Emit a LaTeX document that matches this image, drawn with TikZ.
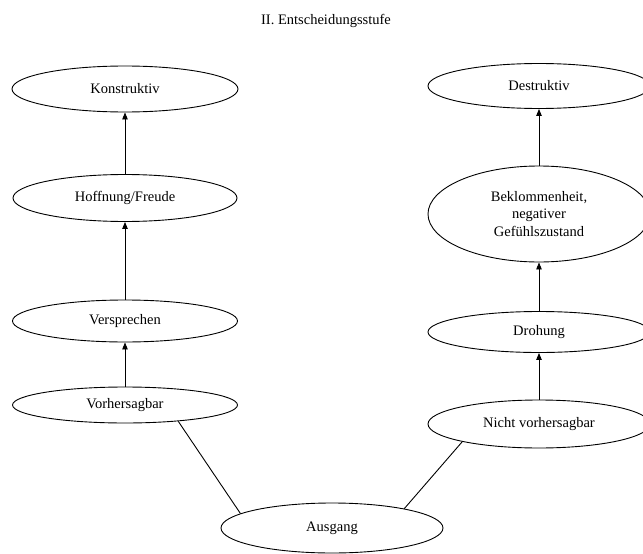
\documentclass[tikz,border=0pt]{standalone}
\usepackage{fontspec}
\setmainfont{Liberation Serif}
\usetikzlibrary{shapes.geometric,arrows.meta}
\begin{document}
\begin{tikzpicture}[x=1pt,y=-1pt,
  ell/.style={draw,ellipse,line width=0.9pt,inner sep=0pt,align=center,
    font=\fontsize{14.5}{17.5}\selectfont},
  arr/.style={line width=0.9pt,-{Triangle[length=7pt,width=5.5pt]}},
  conn/.style={line width=0.9pt}]
\clip (0,0) rectangle (643,554);
\fill[white] (0,0) rectangle (643,554);
\node[font=\fontsize{14.5}{17.5}\selectfont] (title) at (326,21) {II. Entscheidungsstufe};
% left column
\node[ell,minimum width=226pt,minimum height=46pt] (K) at (125,89) {Konstruktiv};
\node[ell,minimum width=224pt,minimum height=47pt] (H) at (125,198) {Hoffnung/Freude};
\node[ell,minimum width=225pt,minimum height=42pt] (V) at (125,321) {Versprechen};
\node[ell,minimum width=225pt,minimum height=36pt] (Vh) at (125,405) {Vorhersagbar};
% right column
\node[ell,minimum width=222pt,minimum height=45pt] (D) at (539,86) {Destruktiv};
\node[ell,minimum width=222pt,minimum height=96pt] (B) at (539,214) {Beklommenheit,\\negativer\\Gefühlszustand};
\node[ell,minimum width=222pt,minimum height=41pt] (Dr) at (539,332) {Drohung};
\node[ell,minimum width=222pt,minimum height=48pt] (N) at (539,424) {Nicht vorhersagbar};
% bottom
\node[ell,minimum width=222pt,minimum height=50pt] (A) at (332,528) {Ausgang};
% arrows
\draw[arr] (Vh.north) -- (V.south);
\draw[arr] (V.north) -- (H.south);
\draw[arr] (H.north) -- (K.south);
\draw[arr] (N.north) -- (Dr.south);
\draw[arr] (Dr.north) -- (B.south);
\draw[arr] (B.north) -- (D.south);
\draw[conn] (Vh.-17) -- (A.171);
\draw[conn] (N.193) -- (A.15);
\end{tikzpicture}
\end{document}
